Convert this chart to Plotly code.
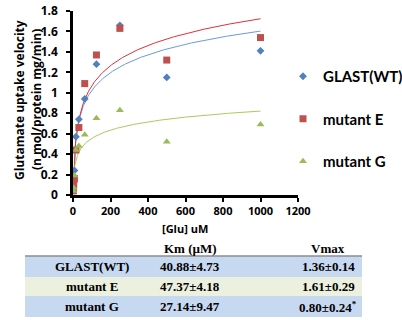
import numpy as np
import plotly.graph_objects as go

# ---- data ----
glu = [1000, 500, 250, 125, 62.5, 31.25, 15.6, 7.8, 3.9, 1.95]
glast_wt = [1.41, 1.15, 1.66, 1.28, 0.94, 0.74, 0.57, 0.24, 0.12, 0.05]
mutant_e = [1.54, 1.32, 1.63, 1.37, 1.09, 0.66, 0.44, 0.16, 0.10, 0.04]
mutant_g = [0.69, 0.52, 0.83, 0.75, 0.59, 0.48, 0.44, 0.19, 0.07, 0.04]

series_names = ["GLAST(WT)", "mutant E", "mutant G"]
table_header = ["", "Km (\u00b5M)", "Vmax"]
table_rows = [
    ["GLAST(WT)", "40.88\u00b14.73", "1.36\u00b10.14"],
    ["mutant E", "47.37\u00b14.18", "1.61\u00b10.29"],
    ["mutant G", "27.14\u00b19.47", "0.80\u00b10.24<sup>*</sup>"],
]

marker_colors = ["#4F81BD", "#C0504D", "#9BBB59"]
line_colors = ["#6B9BDB", "#E0303A", "#A8CC5C"]
symbols = ["diamond", "square", "triangle-up"]
msizes = [6, 7, 7]

fig = go.Figure()
xs = np.array(glu, dtype=float)
xfit = np.linspace(1.0, 1000, 400)
for name, ys, lc in zip(series_names, [glast_wt, mutant_e, mutant_g], line_colors):
    a, b = np.polyfit(np.log(xs), np.array(ys), 1)
    yfit = a * np.log(xfit) + b
    mask = yfit >= 0
    fig.add_trace(go.Scatter(x=xfit[mask], y=yfit[mask], mode="lines",
                             line=dict(color=lc, width=1), showlegend=False,
                             hoverinfo="skip"))
for name, ys, mc, sym, ms in zip(series_names, [glast_wt, mutant_e, mutant_g],
                                 marker_colors, symbols, msizes):
    fig.add_trace(go.Scatter(x=glu, y=ys, mode="markers", name=name,
                             legendgroup=name,
                             marker=dict(color=mc, symbol=sym, size=ms, line=dict(width=0))))

W, H = 402, 320
X0, X1, Y0, Y1 = 73, 298, 11, 195   # plot area in screen pixels
L, T = X0, Y0
PW, PH = X1 - X0, Y1 - Y0
R, B = W - L - PW, H - T - PH


def px(X):
    return (X - X0) / PW


def py(Y):
    return (Y1 - Y) / PH


shapes = []
annotations = []
row_colors = ["#C6D9F1", "#EBF1DE", "#C6D9F1"]
row_bounds = [(256, 277), (277, 296), (296, 317)]
for (y0, y1), c in zip(row_bounds, row_colors):
    shapes.append(dict(type="rect", xref="paper", yref="paper",
                       x0=px(25), x1=px(362), y0=py(y1), y1=py(y0),
                       fillcolor=c, line=dict(width=0), layer="below"))
shapes.append(dict(type="line", xref="paper", yref="paper",
                   x0=px(25), x1=px(362), y0=py(256), y1=py(256),
                   line=dict(color="#8C8C8C", width=1.5)))

col_x = [92, 190, 328]
tfont = dict(family="Liberation Serif", size=13, color="black", weight="bold")
for cx, txt in zip(col_x, table_header):
    if txt:
        annotations.append(dict(xref="paper", yref="paper", x=px(cx), y=py(248),
                                text=txt, showarrow=False, font=tfont,
                                xanchor="center", yanchor="middle"))
for (y0, y1), row in zip(row_bounds, table_rows):
    for cx, txt in zip(col_x, row):
        annotations.append(dict(xref="paper", yref="paper", x=px(cx), y=py((y0 + y1) / 2),
                                text=txt, showarrow=False, font=tfont,
                                xanchor="center", yanchor="middle"))

annotations.append(dict(xref="paper", yref="paper", x=px(185), y=py(228),
                        text="[Glu] uM", showarrow=False,
                        font=dict(family="Open Sans", size=11, color="black", weight="bold"),
                        xanchor="center", yanchor="middle"))
annotations.append(dict(xref="paper", yref="paper", x=px(19), y=py(100),
                        text="Glutamate uptake velocity", showarrow=False, textangle=-90,
                        font=dict(family="Open Sans", size=12, color="black", weight="bold"),
                        xanchor="center", yanchor="middle"))
annotations.append(dict(xref="paper", yref="paper", x=px(36), y=py(100),
                        text="(n mol/protein mg/min)", showarrow=False, textangle=-90,
                        font=dict(family="Open Sans", size=12, color="black", weight="bold"),
                        xanchor="center", yanchor="middle"))

tickfont = dict(family="Open Sans", size=12, color="black", weight="bold")
fig.update_layout(
    width=W, height=H,
    margin=dict(l=L, r=R, t=T, b=B, autoexpand=False),
    paper_bgcolor="white", plot_bgcolor="white",
    shapes=shapes, annotations=annotations,
    legend=dict(x=px(283), y=py(60), xanchor="left", yanchor="top",
                font=dict(family="Lato", size=15, color="black", weight="bold"),
                tracegroupgap=20, itemwidth=30, bgcolor="rgba(0,0,0,0)"),
    xaxis=dict(range=[0, 1200], tickvals=list(range(0, 1201, 200)),
               showgrid=False, zeroline=False, showline=True, linecolor="black",
               linewidth=2.5, ticks="outside", ticklen=4, tickwidth=2,
               tickcolor="black", tickfont=dict(family="Open Sans", size=11, color="black", weight="bold")),
    yaxis=dict(range=[0, 1.8], tickvals=[0, 0.2, 0.4, 0.6, 0.8, 1, 1.2, 1.4, 1.6, 1.8],
               ticktext=["0", "0.2", "0.4", "0.6", "0.8", "1", "1.2", "1.4", "1.6", "1.8"],
               showgrid=False, zeroline=False, showline=True, linecolor="black",
               linewidth=2.5, ticks="outside", ticklen=4, tickwidth=2,
               ticklabelstandoff=6, ticklabeloverflow="allow",
               tickcolor="black", tickfont=tickfont),
)
fig.write_html("out.html", config={"displayModeBar": False},
               post_script="document.body.style.margin='0';")
